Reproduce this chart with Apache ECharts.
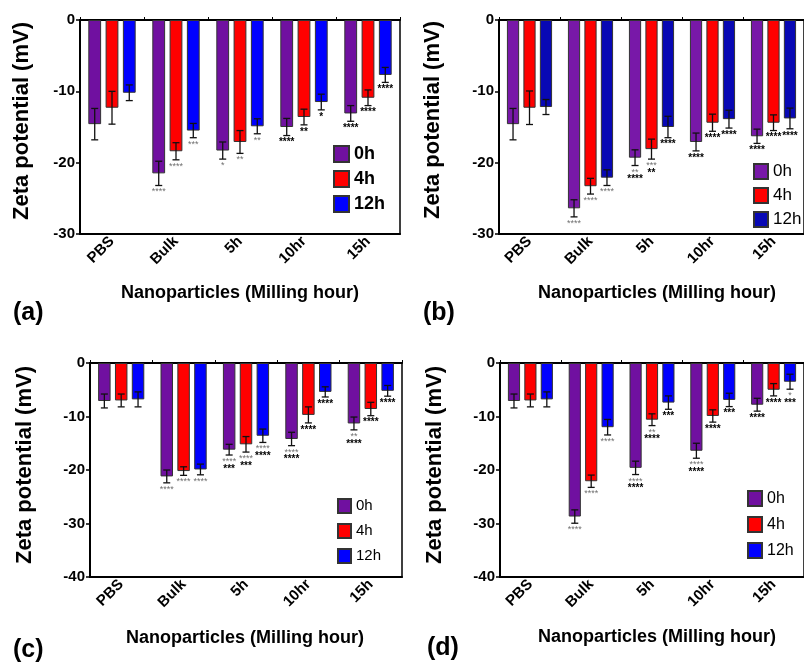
<!DOCTYPE html>
<html>
<head>
<meta charset="utf-8">
<script src="https://cdn.jsdelivr.net/npm/echarts@6/dist/echarts.min.js"></script>
<style>
html,body{margin:0;padding:0;background:#fff;}
#c{width:804px;height:663px;}
</style>
</head>
<body>
<div id="c"></div>
<script>
// ---------- data ----------
const categories = ['PBS', 'Bulk', '5h', '10hr', '15h'];
const seriesNames = ['0h', '4h', '12h'];
const yTicksAB = [0, -10, -20, -30];
const yTicksCD = [0, -10, -20, -30, -40];

// panel (a)
const a0h = [-14.6, -21.5, -18.3, -15.0, -13.1];
const a0hErr = [2.2, 1.7, 1.2, 1.2, 1.1];
const a4h = [-12.3, -18.4, -17.1, -13.6, -10.9];
const a4hErr = [2.3, 1.2, 1.6, 1.1, 1.1];
const a12h = [-10.2, -15.5, -14.9, -11.5, -7.7];
const a12hErr = [1.1, 1.0, 1.05, 1.1, 1.05];
// significance marks: "grey line/black line"
const a0hSig = ['', '****/', '*/', '/****', '/****'];
const a4hSig = ['', '****/', '**/', '/**', '/****'];
const a12hSig = ['', '***/', '**/', '/*', '/****'];

// panel (b)
const b0h = [-14.6, -26.4, -19.3, -17.1, -16.3];
const b0hErr = [2.2, 1.2, 1.1, 1.25, 1.0];
const b4h = [-12.3, -23.3, -18.1, -14.4, -14.4];
const b4hErr = [2.35, 1.1, 1.4, 1.2, 1.1];
const b12h = [-12.2, -22.1, -15.0, -13.9, -13.8];
const b12hErr = [1.05, 1.1, 1.5, 1.25, 1.45];
const b0hSig = ['', '****/', '**/****', '/****', '/****'];
const b4hSig = ['', '****/', '***/**', '/****', '/****'];
const b12hSig = ['', '****/', '/****', '/****', '/****'];

// panel (c)
const c0h = [-7.1, -21.2, -16.2, -14.2, -11.3];
const c0hErr = [1.3, 1.2, 1.0, 1.25, 1.2];
const c4h = [-7.0, -20.2, -15.2, -9.7, -8.6];
const c4hErr = [1.2, 0.8, 1.45, 1.5, 1.25];
const c12h = [-6.8, -19.9, -13.6, -5.4, -5.2];
const c12hErr = [1.4, 1.0, 1.25, 0.95, 1.0];
const c0hSig = ['', '****/', '****/***', '****/****', '**/****'];
const c4hSig = ['', '****/', '****/***', '/****', '/****'];
const c12hSig = ['', '****/', '****/****', '/****', '/****'];

// panel (d)
const d0h = [-7.1, -28.7, -19.6, -16.4, -7.8];
const d0hErr = [1.3, 1.25, 1.25, 1.4, 1.2];
const d4h = [-7.0, -22.1, -10.6, -9.9, -5.0];
const d4hErr = [1.2, 1.15, 1.1, 1.15, 1.15];
const d12h = [-6.8, -12.0, -7.4, -6.9, -3.5];
const d12hErr = [1.4, 1.45, 1.25, 1.25, 1.4];
const d0hSig = ['', '****/', '****/****', '****/****', '/****'];
const d4hSig = ['', '****/', '**/****', '/****', '/****'];
const d12hSig = ['', '****/', '/***', '/***', '*/***'];

// ---------- layout ----------
const FONT = '"Liberation Sans", Arial, Helvetica, sans-serif';
const PURPLE = '#7010a0', RED = '#ff0000', BLUE = '#0000ff';
const panels = [
  {id: 'a', vals: [a0h, a4h, a12h], errs: [a0hErr, a4hErr, a12hErr], sigs: [a0hSig, a4hSig, a12hSig],
   colors: [PURPLE, RED, BLUE], grid: {left: 80, top: 20, width: 320, height: 214}, ticks: yTicksAB,
   legend: {left: 333, top: 145, size: 15, font: 18, bold: true, gap: 7},
   yTitle: [22, 121], xTitle: [240, 293], tag: [13, 313, '(a)']},
  {id: 'b', vals: [b0h, b4h, b12h], errs: [b0hErr, b4hErr, b12hErr], sigs: [b0hSig, b4hSig, b12hSig],
   colors: ['#7818a8', RED, '#0808b4'], grid: {left: 499, top: 20, width: 315, height: 214}, ticks: yTicksAB,
   legend: {left: 753, top: 163, size: 14, font: 17, bold: false, gap: 7},
   yTitle: [433, 120], xTitle: [657, 293], tag: [423, 313, '(b)']},
  {id: 'c', vals: [c0h, c4h, c12h], errs: [c0hErr, c4hErr, c12hErr], sigs: [c0hSig, c4hSig, c12hSig],
   colors: [PURPLE, RED, BLUE], grid: {left: 90, top: 363, width: 312, height: 214}, ticks: yTicksCD,
   legend: {left: 337, top: 498, size: 13, font: 15, bold: false, gap: 9},
   yTitle: [25, 465], xTitle: [245, 638], tag: [13, 650, '(c)']},
  {id: 'd', vals: [d0h, d4h, d12h], errs: [d0hErr, d4hErr, d12hErr], sigs: [d0hSig, d4hSig, d12hSig],
   colors: [PURPLE, RED, BLUE], grid: {left: 500, top: 363, width: 315, height: 214}, ticks: yTicksCD,
   legend: {left: 747, top: 490, size: 14, font: 16, bold: false, gap: 9},
   yTitle: [435, 465], xTitle: [657, 637], tag: [427, 648, '(d)']}
];

const option = {
  animation: false,
  backgroundColor: '#fff',
  textStyle: {fontFamily: FONT},
  grid: [], xAxis: [], yAxis: [], series: [], legend: [], graphic: []
};

function errRenderer(k, sig) {
  return function (params, api) {
    const cat = api.value(0), v = api.value(1), e = api.value(2);
    const band = api.size([1, 0])[0];
    const w = band * 0.2;
    const off = (k - 1) * 1.35 * w;
    const p1 = api.coord([cat, v + e]);
    const p2 = api.coord([cat, v - e]);
    const x = p1[0] + off;
    const cap = 3.5;
    const ls = {stroke: '#111', lineWidth: 1.3};
    const children = [
      {type: 'line', shape: {x1: x, y1: p1[1], x2: x, y2: p2[1]}, style: ls},
      {type: 'line', shape: {x1: x - cap, y1: p1[1], x2: x + cap, y2: p1[1]}, style: ls},
      {type: 'line', shape: {x1: x - cap, y1: p2[1], x2: x + cap, y2: p2[1]}, style: ls}
    ];
    const s = sig[params.dataIndex] || '';
    const parts = s.split('/');
    const grey = parts[0] || '', black = parts[1] || '';
    let y = p2[1] + 2;
    if (grey) {
      children.push({type: 'text', x: x, y: y, style: {text: grey, fill: '#707070',
        font: '9px ' + FONT, align: 'center', textAlign: 'center', verticalAlign: 'top', textVerticalAlign: 'top'}});
      y += 7;
    }
    if (black) {
      children.push({type: 'text', x: x, y: y, style: {text: black, fill: '#000',
        font: 'bold 10px ' + FONT, align: 'center', textAlign: 'center', verticalAlign: 'top', textVerticalAlign: 'top'}});
    }
    return {type: 'group', children: children};
  };
}

panels.forEach(function (p, gi) {
  option.grid.push(Object.assign({show: true, borderColor: '#000', borderWidth: 1.5, backgroundColor: 'transparent'}, p.grid));
  const yMin = Math.min.apply(null, p.ticks), yMax = Math.max.apply(null, p.ticks);
  option.yAxis.push({
    type: 'value', gridIndex: gi, min: yMin, max: yMax, interval: 10,
    axisLine: {show: true, lineStyle: {color: '#000', width: 2}},
    axisTick: {show: true, length: 4, lineStyle: {color: '#000', width: 1.5}},
    splitLine: {show: false},
    axisLabel: {color: '#000', fontWeight: 'bold', fontSize: 15, margin: 5, fontFamily: FONT}
  });
  // bottom category axis
  option.xAxis.push({
    type: 'category', gridIndex: gi, data: categories, position: 'bottom',
    axisLine: {onZero: false, lineStyle: {color: '#000', width: 2}},
    axisTick: {alignWithLabel: true, length: 5, lineStyle: {color: '#000', width: 1.5}},
    axisLabel: {rotate: 45, color: '#000', fontWeight: 'bold', fontSize: 15, margin: 5, interval: 0, fontFamily: FONT}
  });
  // top (zero) line with small boundary ticks
  option.xAxis.push({
    type: 'category', gridIndex: gi, data: categories, position: 'top',
    axisLine: {onZero: false, lineStyle: {color: '#000', width: 2}},
    axisTick: {show: true, interval: 0, length: 3, lineStyle: {color: '#000', width: 1}},
    axisLabel: {show: false}
  });
  const xi = gi * 2;
  const names = [];
  for (let k = 0; k < 3; k++) {
    const name = p.id + ':' + seriesNames[k];
    names.push(name);
    option.series.push({
      type: 'bar', name: name, xAxisIndex: xi, yAxisIndex: gi,
      data: p.vals[k], barWidth: '20%', barGap: '35%',
      itemStyle: {color: p.colors[k], borderColor: '#333', borderWidth: 1}
    });
  }
  for (let k = 0; k < 3; k++) {
    option.series.push({
      type: 'custom', xAxisIndex: xi, yAxisIndex: gi, z: 5, silent: true,
      data: p.vals[k].map(function (v, i) { return [i, v, p.errs[k][i]]; }),
      renderItem: errRenderer(k, p.sigs[k])
    });
  }
  option.legend.push({
    orient: 'vertical', left: p.legend.left, top: p.legend.top, padding: 0,
    itemWidth: p.legend.size, itemHeight: p.legend.size + 1, itemGap: p.legend.gap,
    icon: 'rect', data: names, selectedMode: false,
    formatter: function (n) { return n.split(':')[1]; },
    textStyle: {fontSize: p.legend.font, fontWeight: p.legend.bold ? 'bold' : 'normal', color: '#000', fontFamily: FONT}
  });
  option.graphic.push({type: 'text', x: p.yTitle[0], y: p.yTitle[1], rotation: Math.PI / 2,
    style: {text: 'Zeta potential (mV)', font: 'bold 22px ' + FONT, fill: '#000',
      align: 'center', textAlign: 'center', verticalAlign: 'middle', textVerticalAlign: 'middle'}});
  option.graphic.push({type: 'text', x: p.xTitle[0], y: p.xTitle[1],
    style: {text: 'Nanoparticles (Milling hour)', font: 'bold 18px ' + FONT, fill: '#000',
      align: 'center', textAlign: 'center', verticalAlign: 'middle', textVerticalAlign: 'middle'}});
  option.graphic.push({type: 'text', x: p.tag[0], y: p.tag[1],
    style: {text: p.tag[2], font: 'bold 25px ' + FONT, fill: '#000',
      align: 'left', textAlign: 'left', verticalAlign: 'middle', textVerticalAlign: 'middle'}});
});

const chart = echarts.init(document.getElementById('c'), null, {renderer: 'canvas'});
chart.setOption(option);
</script>
</body>
</html>
